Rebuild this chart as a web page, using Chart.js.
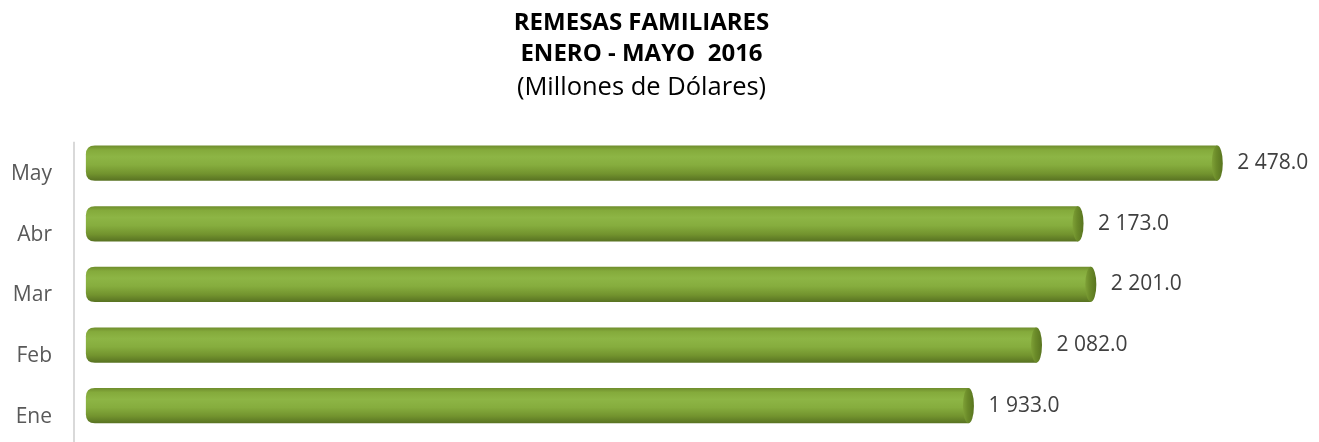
<!DOCTYPE html>
<html>
<head>
<meta charset="utf-8">
<script src="https://cdn.jsdelivr.net/npm/chart.js@4/dist/chart.umd.min.js"></script>
<style>
html,body{margin:0;padding:0;background:#fff;}
#wrap{width:1319px;height:442px;position:relative;}
</style>
</head>
<body>
<div id="wrap"><canvas id="c"></canvas></div>
<script>
const titleLines = ['REMESAS FAMILIARES', 'ENERO - MAYO  2016'];
const subtitleText = '(Millones de Dólares)';
const categories = ['May', 'Abr', 'Mar', 'Feb', 'Ene'];
const remesas = [2478.0, 2173.0, 2201.0, 2082.0, 1933.0];

const FONT = '"Open Sans", Lato, sans-serif';

function fmt(v) {
  const s = v.toFixed(1);
  const [i, d] = s.split('.');
  return i.replace(/\B(?=(\d{3})+(?!\d))/g, ' ') + '.' + d;
}

const cylinderPlugin = {
  id: 'cylinder',
  afterDatasetsDraw(chart) {
    const ctx = chart.ctx;
    const meta = chart.getDatasetMeta(0);
    meta.data.forEach((el, i) => {
      const h = el.height;
      const top = el.y - h / 2;
      const left = el.base;
      const right = el.x;
      const r = 9;
      const g = ctx.createLinearGradient(0, top, 0, top + h);
      g.addColorStop(0, '#6f8d2d');
      g.addColorStop(0.12, '#84aa3b');
      g.addColorStop(0.32, '#8db545');
      g.addColorStop(0.55, '#86ad3e');
      g.addColorStop(0.8, '#72932e');
      g.addColorStop(1, '#587222');
      ctx.save();
      ctx.beginPath();
      ctx.moveTo(left + r, top);
      ctx.lineTo(right, top);
      ctx.lineTo(right, top + h);
      ctx.lineTo(left + r, top + h);
      ctx.quadraticCurveTo(left, top + h, left, top + h - r);
      ctx.lineTo(left, top + r);
      ctx.quadraticCurveTo(left, top, left + r, top);
      ctx.closePath();
      ctx.fillStyle = g;
      ctx.fill();
      const g2 = ctx.createLinearGradient(right - 5, 0, right + 5, 0);
      g2.addColorStop(0, '#7c9e35');
      g2.addColorStop(0.4, '#6b8b29');
      g2.addColorStop(1, '#5a7620');
      ctx.beginPath();
      ctx.ellipse(right, el.y, 5.5, h / 2, 0, 0, Math.PI * 2);
      ctx.fillStyle = g2;
      ctx.fill();
      ctx.fillStyle = '#404040';
      ctx.font = '21px ' + FONT;
      ctx.textAlign = 'left';
      ctx.textBaseline = 'middle';
      ctx.fillText(fmt(remesas[i]), right + 20, el.y);
      ctx.restore();
    });
  },
  afterDraw(chart) {
    const ctx = chart.ctx;
    const x = chart.chartArea.left;
    ctx.save();
    ctx.strokeStyle = '#d9d9d9';
    ctx.lineWidth = 2;
    ctx.beginPath();
    ctx.moveTo(x, chart.chartArea.top + 9);
    ctx.lineTo(x, chart.height);
    ctx.stroke();
    ctx.restore();
  }
};

new Chart(document.getElementById('c'), {
  type: 'bar',
  data: {
    labels: categories,
    datasets: [{
      data: remesas,
      backgroundColor: 'rgba(0,0,0,0)',
      borderWidth: 0,
      barPercentage: 0.9,
      categoryPercentage: 0.645
    }]
  },
  options: {
    indexAxis: 'y',
    responsive: true,
    maintainAspectRatio: false,
    animation: false,
    layout: { padding: { left: 10, right: 46, top: 0, bottom: 6 } },
    plugins: {
      legend: { display: false },
      tooltip: { enabled: false },
      title: {
        display: true,
        text: titleLines,
        color: '#000',
        font: { family: FONT, size: 24, weight: 'bold', lineHeight: 1.27 },
        padding: { top: 8, bottom: 3 }
      },
      subtitle: {
        display: true,
        text: subtitleText,
        color: '#000',
        font: { family: FONT, size: 25.5, weight: 'normal', lineHeight: 1.25 },
        padding: { top: 0, bottom: 29 }
      }
    },
    scales: {
      x: {
        display: false,
        min: -26,
        max: 2600
      },
      y: {
        grid: { display: false, drawTicks: false },
        border: { display: false },
        afterFit(scale) {
          scale.width = 64;
          scale.paddingTop = 0;
          scale.paddingBottom = 0;
        },
        ticks: {
          color: '#595959',
          padding: 22,
          labelOffset: 11,
          font: { family: FONT, size: 21 }
        }
      }
    }
  },
  plugins: [cylinderPlugin]
});
</script>
</body>
</html>
